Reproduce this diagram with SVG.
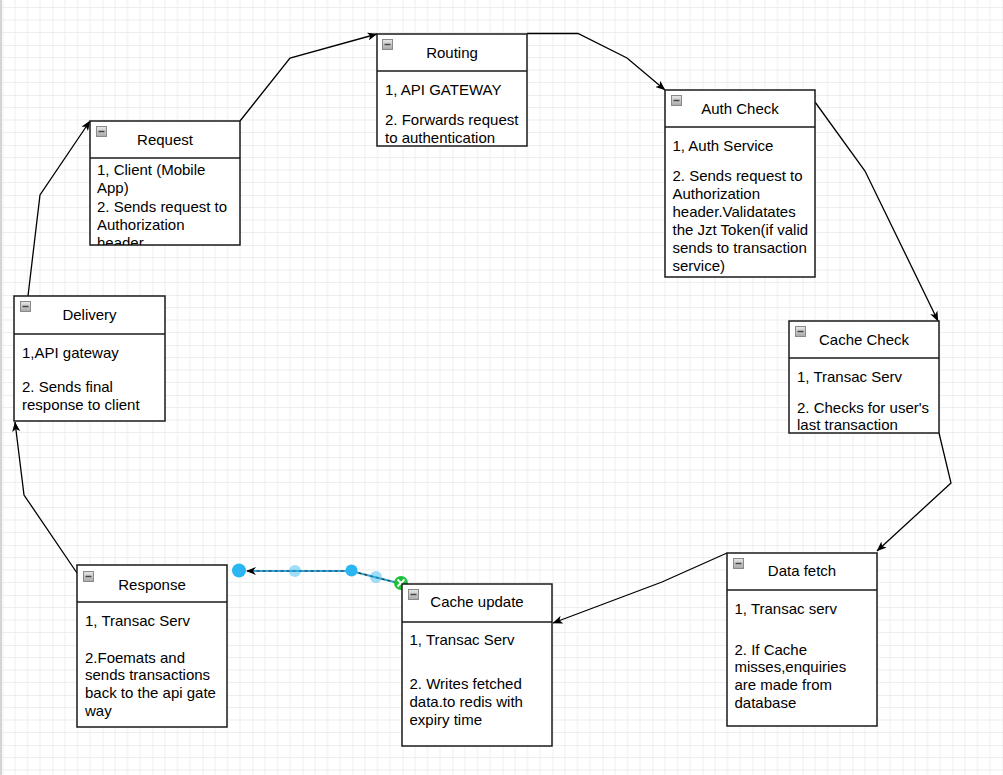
<svg xmlns="http://www.w3.org/2000/svg" width="1003" height="775" viewBox="0 0 1003 775">
<defs>
<pattern id="grid" patternUnits="userSpaceOnUse" x="2.5" y="-5" width="50" height="50">
<rect width="50" height="50" fill="#ffffff"/>
<path d="M12.5,0V50M25,0V50M37.5,0V50M0,12.5H50M0,25H50M0,37.5H50" stroke="#eeeeee" stroke-width="1" fill="none"/>
<path d="M0,0V50M0,0H50" stroke="#dedede" stroke-width="1" fill="none"/>
</pattern>
<linearGradient id="ig" x1="0" y1="0" x2="0" y2="1">
<stop offset="0" stop-color="#e8e8e8"/>
<stop offset="1" stop-color="#a8a8a8"/>
</linearGradient>
<symbol id="icon" viewBox="0 0 11 11">
<rect x="0.5" y="0.5" width="10" height="10" fill="url(#ig)" stroke="#8a8a8a" stroke-width="1"/>
<path d="M2.5,5.5H8.5" stroke="#444" stroke-width="1.5"/>
</symbol>
<marker id="arr" viewBox="0 0 10 8" refX="9.5" refY="4" markerWidth="10" markerHeight="8" markerUnits="userSpaceOnUse" orient="auto">
<path d="M0,0 L10,4 L0,8 L2.5,4 z" fill="#000"/>
</marker>
<clipPath id="clipReq"><rect x="90" y="158" width="150" height="87"/></clipPath>
</defs>
<style>
.box{fill:#ffffff;stroke:#1a1a1a;stroke-width:1.5}
.div{stroke:#1a1a1a;stroke-width:1.5}
.t{font-family:"Liberation Sans",Arial,sans-serif;font-size:15px;fill:#000}
.ttl{text-anchor:middle}
.edge{fill:none;stroke:#000;stroke-width:1.3;marker-end:url(#arr)}
</style>
<rect width="1003" height="775" fill="url(#grid)"/>
<rect x="0" y="0" width="2" height="775" fill="#d4d4d4"/>

<g id="connectors">
<path class="edge" d="M240,121 L290,58 L377,34"/>
<path class="edge" d="M527,33.5 L578,33.5 L627,58 L665,90"/>
<path class="edge" d="M815,102 L865,171 L938,321"/>
<path class="edge" d="M939,433 L951,483 L877,551"/>
<path class="edge" d="M727,553 L662,582 L553,623"/>
<path class="edge" d="M77,573 L24,495 L15,422"/>
<path class="edge" d="M28,296 L40,195 L90,121"/>
<g id="selected-edge">
<path d="M402,584 L351,571 L247,571" fill="none" stroke="#2ea7e0" stroke-width="2.2"/>
<path d="M402,584 L351,571 L247,571" fill="none" stroke="#333" stroke-width="1.2" stroke-dasharray="3,3"/>
<path d="M256,567 L246,571 L256,575 L253,571 z" fill="#000"/>
<circle cx="295" cy="571" r="6" fill="#29b6f2" fill-opacity="0.45"/>
<circle cx="376" cy="577" r="6" fill="#29b6f2" fill-opacity="0.45"/>
<circle cx="351.5" cy="570.5" r="6" fill="#29b6f2"/>
<circle cx="239" cy="570.5" r="7" fill="#29b6f2"/>
<circle cx="401" cy="583" r="7" fill="#1ec23a"/>
<path d="M397.5,579.5 L404.5,586.5 M404.5,579.5 L397.5,586.5" stroke="#fff" stroke-width="1.8"/>
</g>
</g>

<g id="routing">
<rect class="box" x="377" y="34" width="150" height="112"/>
<line class="div" x1="377" y1="71" x2="527" y2="71"/>
<use href="#icon" x="382" y="39" width="11" height="11"/>
<text class="t ttl" x="452" y="57.5">Routing</text>
<text class="t" x="385" y="95">1, API GATEWAY</text>
<text class="t" x="385" y="125">2. Forwards request</text>
<text class="t" x="385" y="143">to authentication</text>
</g>

<g id="request">
<rect class="box" x="90" y="121" width="150" height="124"/>
<line class="div" x1="90" y1="158" x2="240" y2="158"/>
<use href="#icon" x="96" y="126" width="11" height="11"/>
<text class="t ttl" x="165" y="145">Request</text>
<g clip-path="url(#clipReq)">
<text class="t" x="97" y="175">1, Client (Mobile</text>
<text class="t" x="97" y="192.5">App)</text>
<text class="t" x="97" y="212">2. Sends request to</text>
<text class="t" x="97" y="230">Authorization</text>
<text class="t" x="97" y="248">header</text>
</g>
</g>

<g id="auth-check">
<rect class="box" x="665" y="90" width="150" height="187"/>
<line class="div" x1="665" y1="127" x2="815" y2="127"/>
<use href="#icon" x="671" y="95" width="11" height="11"/>
<text class="t ttl" x="740" y="114">Auth Check</text>
<text class="t" x="672.5" y="150.5">1, Auth Service</text>
<text class="t" x="672.5" y="180.5">2. Sends request to</text>
<text class="t" x="672.5" y="198.5">Authorization</text>
<text class="t" x="672.5" y="216.5">header.Validatates</text>
<text class="t" x="672.5" y="234.5">the Jzt Token(if valid</text>
<text class="t" x="672.5" y="252.5">sends to transaction</text>
<text class="t" x="672.5" y="270.5">service)</text>
</g>

<g id="cache-check">
<rect class="box" x="789" y="321" width="150" height="112"/>
<line class="div" x1="789" y1="358" x2="939" y2="358"/>
<use href="#icon" x="795" y="326" width="11" height="11"/>
<text class="t ttl" x="864" y="345">Cache Check</text>
<text class="t" x="797" y="381.5">1, Transac Serv</text>
<text class="t" x="797" y="412.5">2. Checks for user's</text>
<text class="t" x="797" y="430">last transaction</text>
</g>

<g id="delivery">
<rect class="box" x="14" y="296" width="151" height="125"/>
<line class="div" x1="14" y1="334" x2="165" y2="334"/>
<use href="#icon" x="20" y="301" width="11" height="11"/>
<text class="t ttl" x="89.5" y="320">Delivery</text>
<text class="t" x="22" y="357.5">1,API gateway</text>
<text class="t" x="22" y="391.5">2. Sends final</text>
<text class="t" x="22" y="409.5">response to client</text>
</g>

<g id="response">
<rect class="box" x="77" y="565" width="150" height="162"/>
<line class="div" x1="77" y1="602" x2="227" y2="602"/>
<use href="#icon" x="83" y="571" width="11" height="11"/>
<text class="t ttl" x="152" y="589.5">Response</text>
<text class="t" x="85" y="626">1, Transac Serv</text>
<text class="t" x="85" y="662.5">2.Foemats and</text>
<text class="t" x="85" y="680">sends transactions</text>
<text class="t" x="85" y="698">back to the api gate</text>
<text class="t" x="85" y="715.5">way</text>
</g>

<g id="cache-update">
<rect class="box" x="402" y="584" width="150" height="162"/>
<line class="div" x1="402" y1="622" x2="552" y2="622"/>
<use href="#icon" x="408" y="589" width="11" height="11"/>
<text class="t ttl" x="477" y="607">Cache update</text>
<text class="t" x="409.5" y="645">1, Transac Serv</text>
<text class="t" x="409.5" y="689">2. Writes fetched</text>
<text class="t" x="409.5" y="707">data.to redis with</text>
<text class="t" x="409.5" y="724.5">expiry time</text>
</g>

<g id="data-fetch">
<rect class="box" x="727" y="553" width="150" height="173"/>
<line class="div" x1="727" y1="590" x2="877" y2="590"/>
<use href="#icon" x="733" y="558" width="11" height="11"/>
<text class="t ttl" x="802" y="576">Data fetch</text>
<text class="t" x="734.5" y="614">1, Transac serv</text>
<text class="t" x="734.5" y="654.5">2. If Cache</text>
<text class="t" x="734.5" y="672">misses,enquiries</text>
<text class="t" x="734.5" y="690">are made from</text>
<text class="t" x="734.5" y="708">database</text>
</g>
</svg>
